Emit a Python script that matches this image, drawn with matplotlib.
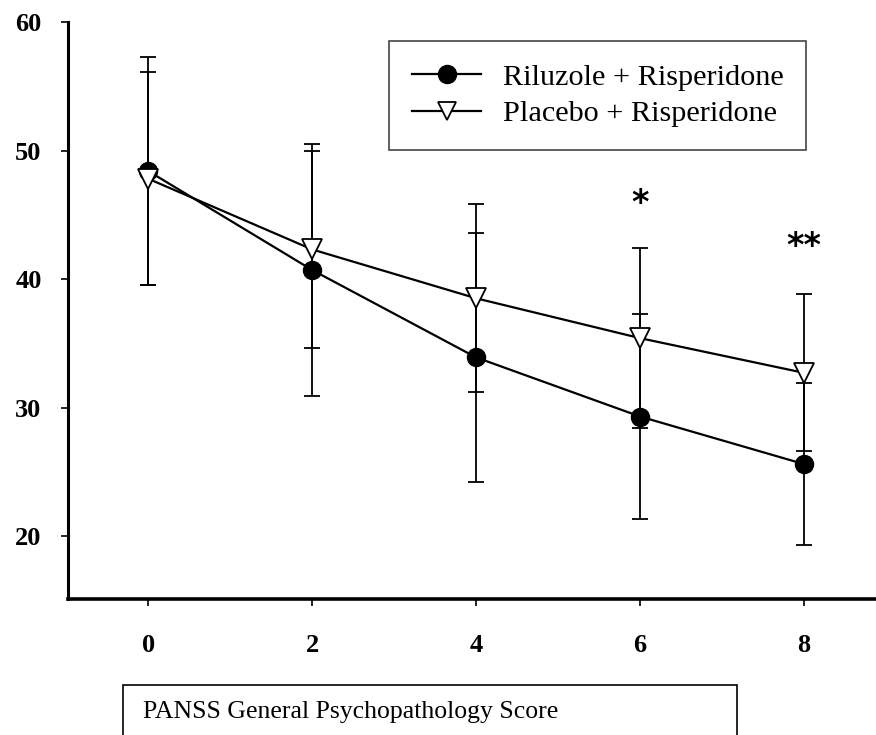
import matplotlib
matplotlib.use("Agg")
import matplotlib.pyplot as plt
from matplotlib.patches import Rectangle
from matplotlib.lines import Line2D

# weeks on the x axis
weeks = [0, 2, 4, 6, 8]

# mean scores and SD
riluzole_mean = [48.4, 40.7, 33.9, 29.3, 25.6]
riluzole_sd = [8.9, 9.8, 9.7, 8.0, 6.3]
placebo_mean = [47.8, 42.3, 38.5, 35.4, 32.7]
placebo_sd = [8.3, 7.7, 7.3, 7.0, 6.1]

# significance marks
sig_weeks = [6, 8]
sig_y = [45.9, 42.5]
sig_labels = ["*", "**"]

y_ticks = [20, 30, 40, 50, 60]
series_names = ["Riluzole + Risperidone", "Placebo + Risperidone"]
box_title = "PANSS General Psychopathology Score"

plt.rcParams["font.family"] = ["Liberation Serif", "DejaVu Serif"]

fig = plt.figure(figsize=(8.76, 7.35), dpi=100)
ax = fig.add_axes([68 / 876, 136 / 735, 808 / 876, 577 / 735])

ax.errorbar(weeks, riluzole_mean, yerr=riluzole_sd, color="black", lw=1.6,
            elinewidth=1.3, capsize=5.5, capthick=1.3, marker="o", ms=13,
            mfc="black", mec="black", zorder=3)
ax.errorbar(weeks, placebo_mean, yerr=placebo_sd, color="black", lw=1.6,
            elinewidth=1.3, capsize=5.5, capthick=1.3, marker="v", ms=14,
            mfc="white", mec="black", mew=1.3, zorder=4)

for x, y, s in zip(sig_weeks, sig_y, sig_labels):
    ax.text(x, y, s, ha="center", va="center", fontsize=24,
            fontweight="bold", family="DejaVu Sans")

ax.set_xlim(-0.98, 8.88)
ax.set_ylim(15.1, 60)
ax.set_xticks(weeks)
ax.set_yticks(y_ticks)
ax.tick_params(axis="both", direction="out", length=5, width=1.2, labelsize=19)
ax.tick_params(axis="y", pad=14)
ax.tick_params(axis="x", pad=20)
for lab in ax.get_xticklabels() + ax.get_yticklabels():
    lab.set_fontweight("bold")

ax.spines["top"].set_visible(False)
ax.spines["right"].set_visible(False)
ax.spines["left"].set_linewidth(2.2)
ax.spines["bottom"].set_linewidth(2.6)

handles = [
    Line2D([], [], color="black", lw=1.6, marker="o", ms=13, mfc="black", mec="black"),
    Line2D([], [], color="black", lw=1.6, marker="v", ms=13, mfc="white", mec="black", mew=1.3),
]
leg = ax.legend(handles, series_names, loc="upper left",
                bbox_to_anchor=(389 / 876, 1 - 41 / 735),
                bbox_transform=fig.transFigure, fontsize=21.8, frameon=True,
                fancybox=False, framealpha=1, edgecolor="#444444",
                borderpad=0.75, labelspacing=0.3, handlelength=2.3,
                handletextpad=0.7, borderaxespad=0)
leg.get_frame().set_linewidth(1.2)

# caption box under the plot
fig.add_artist(Rectangle((123 / 876, -0.05), 614 / 876, 0.05 + 50 / 735,
                         transform=fig.transFigure, fill=False,
                         edgecolor="black", lw=1.2))
fig.text(143 / 876, 1 - 712 / 735, box_title, fontsize=18.5, va="center", ha="left")

fig.savefig("out.png", dpi=100)
